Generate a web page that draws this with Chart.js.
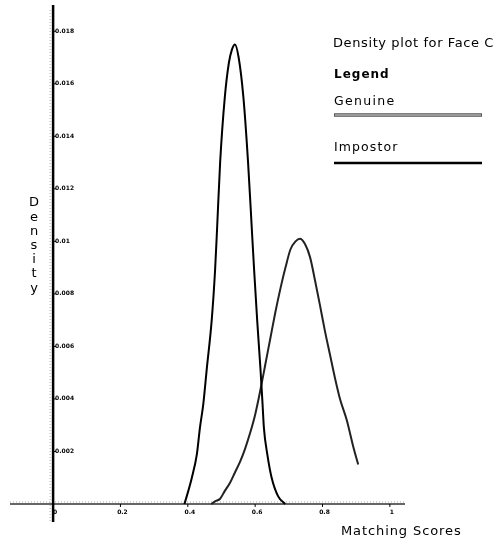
<!DOCTYPE html>
<html>
<head>
<meta charset="utf-8">
<script src="https://cdn.jsdelivr.net/npm/chart.js@4"></script>
<style>
  html, body { margin: 0; padding: 0; background: #fff; }
  #wrap { width: 500px; height: 544px; }
</style>
</head>
<body>
<div id="wrap"><canvas id="density-chart" width="500" height="544"></canvas></div>
<script>
// values
const impostorX = [0.39, 0.397, 0.412, 0.427, 0.436, 0.446, 0.456, 0.471, 0.481, 0.487, 0.496, 0.510, 0.522, 0.531,
                   0.540, 0.551, 0.565, 0.579, 0.590, 0.597, 0.606, 0.616, 0.622, 0.626, 0.636, 0.649, 0.668, 0.689];
const impostorY = [0.0000, 0.0003, 0.0010, 0.0019, 0.0029, 0.0038, 0.0051, 0.0070, 0.0089, 0.0105, 0.0130, 0.0155, 0.0168, 0.0173,
                   0.0175, 0.0170, 0.0155, 0.0130, 0.0105, 0.0089, 0.0070, 0.0051, 0.0038, 0.0029, 0.0019, 0.0010, 0.0003, 0.0000];

const genuineX = [0.470, 0.481, 0.496, 0.510, 0.525, 0.540, 0.555, 0.570, 0.585, 0.600, 0.615, 0.630, 0.645, 0.660,
                  0.675, 0.690, 0.705, 0.720, 0.733, 0.748, 0.763, 0.778, 0.792, 0.807, 0.822, 0.837, 0.852, 0.872,
                  0.891, 0.906];
const genuineY = [0.0000, 0.0001, 0.0002, 0.0005, 0.0008, 0.0012, 0.0016, 0.0021, 0.0027, 0.0034, 0.0043, 0.0053, 0.0063, 0.0073,
                  0.0082, 0.0090, 0.0097, 0.0100, 0.0101, 0.0099, 0.0094, 0.0085, 0.0076, 0.0066, 0.0057, 0.0048, 0.0040, 0.0032,
                  0.0022, 0.0015];

const yTicks = [0.002, 0.004, 0.006, 0.008, 0.01, 0.012, 0.014, 0.016, 0.018];
const yTickLabels = ['0.002', '0.004', '0.006', '0.008', '0.01', '0.012', '0.014', '0.016', '0.018'];
const xTicks = [0, 0.2, 0.4, 0.6, 0.8, 1];
const xTickLabels = ['0', '0.2', '0.4', '0.6', '0.8', '1'];

const titleText = 'Density plot for Face C';
const legendTitle = 'Legend';
const genuineLabel = 'Genuine';
const impostorLabel = 'Impostor';
const xAxisTitle = 'Matching Scores';
const yAxisTitle = 'Density';

const toPoints = (xs, ys) => xs.map((x, i) => ({ x: x, y: ys[i] }));

const FONT = '"DejaVu Sans", sans-serif';

function spacedText(ctx, text, x, y, spacing) {
    ctx.letterSpacing = spacing + 'px';
    ctx.fillText(text, x, y);
    ctx.letterSpacing = '0px';
}

// axes crossing at the origin, small tick labels, stacked y title, side legend
const plotDecor = {
    id: 'plotDecor',
    beforeDatasetsDraw(chart) {
        const ctx = chart.ctx;
        const xs = chart.scales.x;
        const ys = chart.scales.y;
        const area = chart.chartArea;
        const x0 = xs.getPixelForValue(0);
        const y0 = ys.getPixelForValue(0);

        ctx.save();
        // x axis
        ctx.strokeStyle = '#333';
        ctx.lineWidth = 1.5;
        ctx.beginPath();
        ctx.moveTo(area.left, y0);
        ctx.lineTo(area.right, y0);
        ctx.stroke();
        // faint dotted shadow of the x axis
        ctx.strokeStyle = '#aaa';
        ctx.lineWidth = 1;
        ctx.setLineDash([1, 2]);
        ctx.beginPath();
        ctx.moveTo(area.left, y0 - 2);
        ctx.lineTo(area.right, y0 - 2);
        ctx.stroke();
        // faint dotted line beside the y axis
        ctx.beginPath();
        ctx.moveTo(x0 - 3, area.top + 5);
        ctx.lineTo(x0 - 3, area.bottom);
        ctx.stroke();
        ctx.setLineDash([]);

        // y axis
        ctx.strokeStyle = '#000';
        ctx.lineWidth = 2.5;
        ctx.beginPath();
        ctx.moveTo(x0, area.top);
        ctx.lineTo(x0, area.bottom);
        ctx.stroke();

        // y ticks
        ctx.fillStyle = '#000';
        ctx.font = 'bold 6px ' + FONT;
        ctx.textAlign = 'left';
        ctx.textBaseline = 'middle';
        ctx.lineWidth = 1;
        yTicks.forEach((v, i) => {
            const py = ys.getPixelForValue(v);
            ctx.beginPath();
            ctx.moveTo(x0, py);
            ctx.lineTo(x0 + 3, py);
            ctx.stroke();
            ctx.fillText(yTickLabels[i], x0 + 2, py);
        });

        // x ticks
        ctx.textAlign = 'center';
        ctx.textBaseline = 'top';
        xTicks.forEach((v, i) => {
            const px = xs.getPixelForValue(v);
            ctx.beginPath();
            ctx.moveTo(px, y0);
            ctx.lineTo(px, y0 + 3);
            ctx.stroke();
            ctx.fillText(xTickLabels[i], px + 2, y0 + 5);
        });
        ctx.restore();
    },
    afterDraw(chart) {
        const ctx = chart.ctx;
        ctx.save();
        ctx.fillStyle = '#000';
        ctx.textBaseline = 'middle';

        // stacked y axis title
        ctx.font = '13px ' + FONT;
        ctx.textAlign = 'center';
        yAxisTitle.split('').forEach((ch, i) => {
            ctx.fillText(ch, 34, 203 + i * 14.2);
        });

        // x axis title
        ctx.textAlign = 'left';
        ctx.font = '13px ' + FONT;
        spacedText(ctx, xAxisTitle, 341, 532, 0.9);

        // title and legend
        ctx.font = '13px ' + FONT;
        spacedText(ctx, titleText, 333, 44, 0.6);
        ctx.font = 'bold 12px ' + FONT;
        spacedText(ctx, legendTitle, 334, 75, 1);
        ctx.font = '12.5px ' + FONT;
        spacedText(ctx, genuineLabel, 334, 102, 1.3);
        spacedText(ctx, impostorLabel, 334, 148, 1.1);

        // genuine sample: grey double line
        ctx.strokeStyle = '#555';
        ctx.lineWidth = 3.5;
        ctx.beginPath();
        ctx.moveTo(334, 115);
        ctx.lineTo(482, 115);
        ctx.stroke();
        ctx.strokeStyle = '#ddd';
        ctx.lineWidth = 1.2;
        ctx.beginPath();
        ctx.moveTo(335, 115);
        ctx.lineTo(481, 115);
        ctx.stroke();

        // impostor sample: black line
        ctx.strokeStyle = '#000';
        ctx.lineWidth = 2.5;
        ctx.beginPath();
        ctx.moveTo(334, 163);
        ctx.lineTo(482, 163);
        ctx.stroke();
        ctx.restore();
    }
};

const chart = new Chart(document.getElementById('density-chart').getContext('2d'), {
    type: 'line',
    data: {
        datasets: [{
            label: impostorLabel,
            data: toPoints(impostorX, impostorY),
            borderColor: '#000',
            borderWidth: 2,
            pointRadius: 0,
            cubicInterpolationMode: 'monotone',
            fill: false
        }, {
            label: genuineLabel,
            data: toPoints(genuineX, genuineY),
            borderColor: '#222',
            borderWidth: 2,
            pointRadius: 0,
            cubicInterpolationMode: 'monotone',
            fill: false
        }]
    },
    options: {
        responsive: false,
        animation: false,
        layout: { padding: { left: 10, right: 95, top: 5, bottom: 22 } },
        plugins: {
            legend: { display: false },
            title: { display: false },
            tooltip: { enabled: false }
        },
        scales: {
            x: { type: 'linear', min: -0.128, max: 1.045, display: false },
            y: { type: 'linear', min: -0.000686, max: 0.019, display: false }
        }
    },
    plugins: [plotDecor]
});
</script>
</body>
</html>
